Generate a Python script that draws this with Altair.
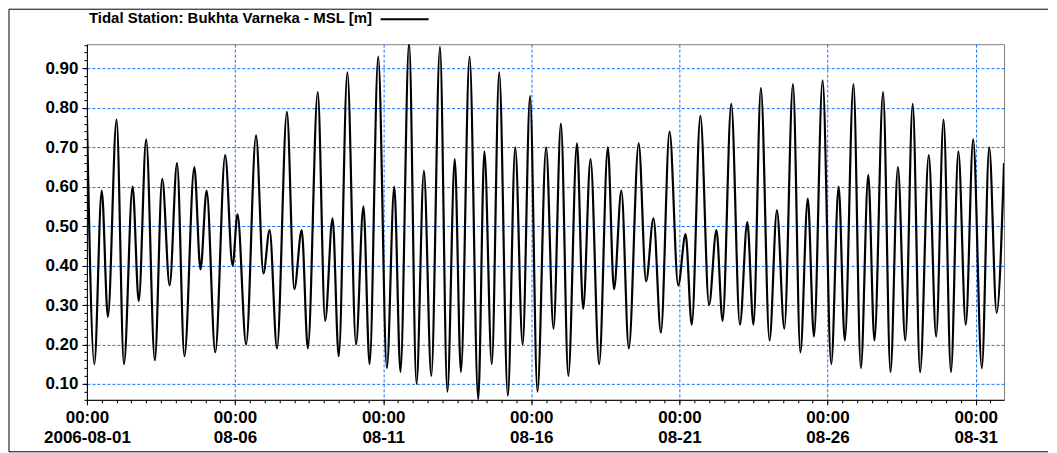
import altair as alt
import pandas as pd

# hours since 2006-08-01 00:00 UTC of each turning point of the tide curve
hours = [0, 6, 12, 17, 24, 30, 37, 42, 48, 55, 61, 67, 73, 79, 87, 92, 97, 104, 112, 118,
         122, 129, 137, 143, 148, 154, 162, 168, 174, 179, 187, 193, 199, 204, 211, 218, 224, 229, 236, 243,
         249, 254, 261, 267, 273, 279, 286, 292, 298, 303, 310, 317, 322, 328, 334, 341, 347, 353, 359, 365,
         372, 378, 384, 390, 397, 402, 408, 415, 422, 427, 433, 439, 447, 453, 459, 465, 472, 479, 485, 490,
         497, 504, 510, 515, 522, 529, 535, 540, 546, 553, 559, 565, 572, 578, 584, 589, 596, 603, 609, 614,
         621, 627, 633, 638, 645, 651, 657, 663, 669, 675, 682, 688, 694, 700, 706, 712, 718, 725, 731, 737, 743]
level = [0.78, 0.15, 0.59, 0.27, 0.77, 0.15, 0.60, 0.31, 0.72, 0.16, 0.62, 0.35, 0.66, 0.17, 0.65, 0.39, 0.59, 0.18, 0.68, 0.40,
         0.53, 0.20, 0.73, 0.38, 0.49, 0.19, 0.79, 0.34, 0.49, 0.19, 0.84, 0.26, 0.52, 0.17, 0.89, 0.20, 0.55, 0.15, 0.93, 0.14,
         0.60, 0.13, 0.965, 0.10, 0.64, 0.12, 0.955, 0.08, 0.67, 0.13, 0.93, 0.06, 0.69, 0.15, 0.89, 0.07, 0.70, 0.20, 0.83, 0.08,
         0.70, 0.24, 0.76, 0.12, 0.71, 0.29, 0.67, 0.15, 0.70, 0.34, 0.59, 0.19, 0.71, 0.36, 0.52, 0.23, 0.74, 0.35, 0.48, 0.25,
         0.78, 0.30, 0.49, 0.26, 0.81, 0.25, 0.51, 0.25, 0.85, 0.21, 0.54, 0.24, 0.86, 0.18, 0.57, 0.22, 0.87, 0.15, 0.60, 0.21,
         0.86, 0.14, 0.63, 0.21, 0.84, 0.13, 0.65, 0.21, 0.81, 0.13, 0.68, 0.22, 0.77, 0.13, 0.69, 0.25, 0.72, 0.14, 0.70, 0.28, 0.66]

series_name = "Tidal Station: Bukhta Varneka - MSL [m]"
y_major = [0.10, 0.20, 0.30, 0.40, 0.50, 0.60, 0.70, 0.80, 0.90]

base = pd.Timestamp("2006-08-01T00:00:00Z")
times = [(base + pd.Timedelta(hours=h)).strftime("%Y-%m-%dT%H:%M:%SZ") for h in hours]
df = pd.DataFrame({"time": times, "level": level, "series": series_name})

start_ms = int(base.value // 10**6)
HOUR = 3600000
x_major = [start_ms + k * 5 * 24 * HOUR for k in range(7)]
x_minor = [start_ms + k * 12 * HOUR for k in range(62)]
y_minor = [round(0.06 + 0.02 * k, 2) for k in range(46)]

W, H = 918, 356
FONT = "Liberation Sans"
GRID = "#1470ff"

xscale = alt.Scale(type="utc", domain=[start_ms, start_ms + 743 * HOUR], nice=False)
yscale = alt.Scale(domain=[0.0595, 0.9615], nice=False, zero=False)

line = alt.Chart(df).mark_line(color="black", strokeWidth=2.2, interpolate="monotone", clip=True).encode(
    x=alt.X("time:T", scale=xscale, axis=alt.Axis(
        values=x_major, orient="bottom", title=None,
        labelExpr="[utcFormat(datum.value, '%H:%M'), datum.index == 0 ? utcFormat(datum.value, '%Y-%m-%d') : utcFormat(datum.value, '%m-%d')]",
        grid=True, gridColor=GRID, gridDash=[3, 2], gridWidth=1, gridOpacity=1,
        tickSize=5, tickColor="black", domainColor="black",
        labelFont=FONT, labelFontSize=17, labelFontWeight="bold", labelColor="black",
        labelLineHeight=20, labelPadding=5, labelFlush=False, labelOverlap=False)),
    y=alt.Y("level:Q", scale=yscale, axis=alt.Axis(
        values=y_major, format=".2f", orient="left", title=None,
        grid=True, gridColor=GRID, gridDash=[3, 2], gridWidth=1, gridOpacity=1,
        tickSize=5, tickColor="black", domainColor="black",
        labelFont=FONT, labelFontSize=17, labelFontWeight="bold", labelColor="black",
        labelPadding=4)),
    color=alt.Color("series:N", scale=alt.Scale(range=["black"]), legend=alt.Legend(
        title=series_name, titleOrient="left", titleLimit=600,
        titleAnchor="middle", titleBaseline="middle",
        labelExpr="''", labelFontSize=1, labelOffset=0,
        titleFont=FONT, titleFontSize=15, titleFontWeight="bold", titleColor="black",
        titlePadding=25, symbolType="M-4,0H4", symbolSize=144, symbolStrokeWidth=2,
        symbolStrokeColor="black", symbolFillColor="black",
        orient="none", legendX=2, legendY=-32, padding=0)),
)

minor = alt.Chart(df).mark_line(opacity=0).encode(
    x=alt.X("time:T", scale=xscale, axis=alt.Axis(
        values=x_minor, orient="bottom", title=None, labels=False, grid=False,
        domain=False, tickSize=3, tickColor="black")),
    y=alt.Y("level:Q", scale=yscale, axis=alt.Axis(
        values=y_minor, orient="left", title=None, labels=False, grid=False,
        domain=False, tickSize=3, tickColor="black")),
)

frame_src = alt.Data(values=[{"k": 1}])
frame_left = alt.Chart(frame_src).mark_rule(color="black", strokeWidth=1).encode(
    x=alt.value(-78), y=alt.value(-35), y2=alt.value(408))
frame_top = alt.Chart(frame_src).mark_rule(color="black", strokeWidth=1).encode(
    x=alt.value(-78), x2=alt.value(962), y=alt.value(-35))
frame_bottom = alt.Chart(frame_src).mark_rule(color="black", strokeWidth=1).encode(
    x=alt.value(-78), x2=alt.value(962), y=alt.value(408))

chart = alt.layer(line, minor, frame_left, frame_top, frame_bottom).resolve_axis(
    x="independent", y="independent"
).properties(
    width=W, height=H, padding=0, background="white"
).configure_view(stroke="#808080", strokeWidth=1)

chart.save("out.html", embed_options={"renderer": "svg", "actions": False})
